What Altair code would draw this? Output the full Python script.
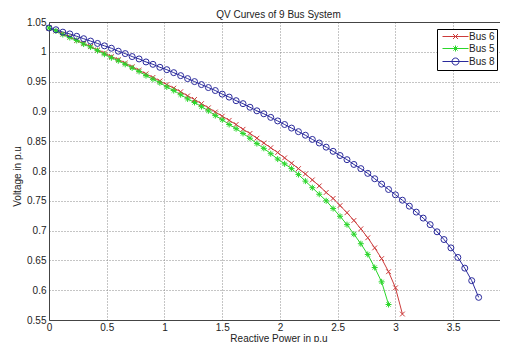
import altair as alt
import pandas as pd

# ---------------- data ----------------
reactive_power = [0.0, 0.06, 0.12, 0.18, 0.24, 0.30, 0.36, 0.42, 0.48, 0.54,
                  0.60, 0.66, 0.72, 0.78, 0.84, 0.90, 0.96, 1.02, 1.08, 1.14,
                  1.20, 1.26, 1.32, 1.38, 1.44, 1.50, 1.56, 1.62, 1.68, 1.74,
                  1.80, 1.86, 1.92, 1.98, 2.04, 2.10, 2.16, 2.22, 2.28, 2.34,
                  2.40, 2.46, 2.52, 2.58, 2.64, 2.70, 2.76, 2.82, 2.88, 2.94,
                  3.00, 3.06, 3.12, 3.18, 3.24, 3.30, 3.36, 3.42, 3.48, 3.54,
                  3.60, 3.66, 3.72]

bus6_voltage = [1.040, 1.035, 1.030, 1.025, 1.019, 1.014, 1.009, 1.003, 0.998, 0.992,
                0.987, 0.981, 0.975, 0.969, 0.963, 0.957, 0.951, 0.945, 0.939, 0.933,
                0.926, 0.920, 0.913, 0.906, 0.899, 0.892, 0.885, 0.878, 0.870, 0.863,
                0.855, 0.847, 0.839, 0.831, 0.822, 0.813, 0.804, 0.795, 0.785, 0.775,
                0.764, 0.754, 0.742, 0.730, 0.717, 0.703, 0.688, 0.671, 0.653, 0.631,
                0.604, 0.560]

bus5_voltage = [1.040, 1.035, 1.029, 1.024, 1.019, 1.013, 1.008, 1.002, 0.996, 0.990,
                0.985, 0.979, 0.973, 0.967, 0.960, 0.954, 0.948, 0.941, 0.935, 0.928,
                0.921, 0.915, 0.908, 0.901, 0.893, 0.886, 0.878, 0.871, 0.863, 0.855,
                0.846, 0.838, 0.829, 0.820, 0.812, 0.804, 0.794, 0.783, 0.772, 0.761,
                0.750, 0.737, 0.724, 0.710, 0.694, 0.678, 0.660, 0.638, 0.614, 0.576]

bus8_voltage = [1.040, 1.037, 1.033, 1.030, 1.026, 1.022, 1.018, 1.014, 1.010, 1.006,
                1.001, 0.997, 0.992, 0.988, 0.983, 0.979, 0.974, 0.970, 0.965, 0.960,
                0.955, 0.950, 0.945, 0.940, 0.935, 0.929, 0.924, 0.918, 0.913, 0.907,
                0.901, 0.896, 0.890, 0.884, 0.878, 0.872, 0.866, 0.860, 0.853, 0.847,
                0.840, 0.833, 0.826, 0.819, 0.811, 0.804, 0.796, 0.787, 0.778, 0.769,
                0.760, 0.751, 0.741, 0.731, 0.721, 0.710, 0.698, 0.685, 0.671, 0.655,
                0.637, 0.616, 0.588]

series_names = ["Bus 6", "Bus 5", "Bus 8"]
series_colors = ["#cc3b3b", "#2bd62b", "#2a2a9c"]
x_ticks = [0, 0.5, 1, 1.5, 2, 2.5, 3, 3.5]
y_ticks = [0.55, 0.6, 0.65, 0.7, 0.75, 0.8, 0.85, 0.9, 0.95, 1.0, 1.05]

# marker glyphs: x, *, o
marker_shapes = [
    "M-0.8,-0.8L0.8,0.8M-0.8,0.8L0.8,-0.8",
    "M-1,0L1,0M0,-1L0,1M-0.7,-0.7L0.7,0.7M-0.7,0.7L0.7,-0.7",
    "circle",
]
# legend glyphs: short line with the marker in its middle
legend_shapes = [
    "M-0.4,0L4.8,0M1.7,-0.5L2.7,0.5M1.7,0.5L2.7,-0.5",
    "M-0.4,0L4.8,0M1.6,0L2.8,0M2.2,-0.6L2.2,0.6M1.78,-0.42L2.62,0.42M1.78,0.42L2.62,-0.42",
    "M-0.4,0L4.8,0M2.9,0A0.7,0.7 0 1,1 1.5,0A0.7,0.7 0 1,1 2.9,0",
]

rows = []
for name, volts in zip(series_names, [bus6_voltage, bus5_voltage, bus8_voltage]):
    for q, v in zip(reactive_power, volts):
        rows.append({"series": name, "Q": q, "V": v})
df = pd.DataFrame(rows)

FONT = "Liberation Sans"
TXT = "#222222"
FRAME = "#444444"

PLOT_W = 451
PLOT_H = 298

x_scale = alt.Scale(domain=[0, 3.905], nice=False, zero=False)
y_scale = alt.Scale(domain=[0.55, 1.05], nice=False, zero=False)
color_scale = alt.Scale(domain=series_names, range=series_colors)

grid_style = dict(grid=True, gridDash=[1, 2], gridColor="#8a8a8a", gridWidth=1)

x_axis = alt.Axis(orient="bottom", values=x_ticks, format="~g", ticks=False,
                  labelPadding=2, domain=True, domainColor=FRAME, **grid_style,
                  labelColor=TXT, labelFontSize=10, labelFont=FONT,
                  title="Reactive Power in p.u", titleFont=FONT, titleFontSize=10,
                  titleFontWeight="normal", titleColor=TXT, titlePadding=1,
                  titleX=229.5, labelFlush=False)
x_axis_blank = alt.Axis(orient="bottom", labels=False, ticks=False, grid=False,
                        domain=False, title=None)
x_axis_top = alt.Axis(orient="top", labels=False, ticks=False, grid=False,
                      domain=True, domainColor=FRAME, title=None)
y_axis = alt.Axis(orient="left", values=y_ticks, format="~g", ticks=False,
                  labelPadding=3, domain=True, domainColor=FRAME, **grid_style,
                  labelColor=TXT, labelFontSize=10, labelFont=FONT,
                  title="Voltage in p.u", titleFont=FONT, titleFontSize=10,
                  titleFontWeight="normal", titleColor=TXT, titlePadding=4,
                  titleY=154, labelFlush=False)

lines = alt.Chart(df).mark_line(strokeWidth=1).encode(
    x=alt.X("Q:Q", scale=x_scale, axis=x_axis),
    y=alt.Y("V:Q", scale=y_scale, axis=y_axis),
    color=alt.Color("series:N", scale=color_scale, legend=None),
    detail="series:N",
)

points = alt.Chart(df).mark_point(filled=False, size=36, strokeWidth=1, opacity=1).encode(
    x=alt.X("Q:Q", scale=x_scale, axis=x_axis_blank),
    y=alt.Y("V:Q", scale=y_scale, axis=y_axis),
    color=alt.Color("series:N", scale=color_scale, legend=None),
    shape=alt.Shape("series:N", scale=alt.Scale(domain=series_names, range=marker_shapes), legend=None),
)

legend_def = alt.Legend(title=None, orient="none", legendX=388, legendY=7,
                        strokeColor="#000000", fillColor="#ffffff", padding=2,
                        symbolSize=100, symbolStrokeWidth=1, symbolOpacity=1,
                        labelOffset=19, labelFontSize=10, labelFont=FONT,
                        labelColor=TXT, rowPadding=1)

# legend-only layer (no rows drawn) that also carries the top frame line
legend_layer = alt.Chart(df).transform_filter("false").mark_point(
    filled=False, strokeWidth=1, opacity=1
).encode(
    x=alt.X("Q:Q", scale=x_scale, axis=x_axis_top),
    color=alt.Color("series:N", scale=color_scale, legend=legend_def),
    shape=alt.Shape("series:N", scale=alt.Scale(domain=series_names, range=legend_shapes),
                    legend=legend_def),
)

chart = alt.layer(lines, points, legend_layer).resolve_scale(
    color="independent", shape="independent"
).properties(
    width=PLOT_W,
    height=PLOT_H,
    title=alt.TitleParams(text="QV Curves of 9 Bus System", fontSize=10,
                          fontWeight="normal", font=FONT, color=TXT,
                          offset=-3, anchor="middle", dx=4),
    autosize=alt.AutoSizeParams(type="none"),
    padding={"left": 41, "top": 14, "right": 0, "bottom": 22},
    background="#ffffff",
).configure_view(stroke=None)

chart.save("out.html", embed_options={"renderer": "svg", "actions": False})
